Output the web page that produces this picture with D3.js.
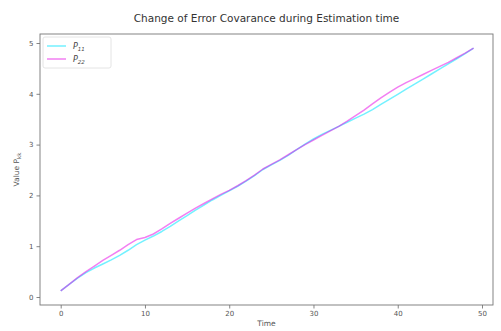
<!DOCTYPE html>
<html>
<head>
<meta charset="utf-8">
<script src="https://cdn.jsdelivr.net/npm/d3@7"></script>
<style>
  html, body { margin: 0; padding: 0; background: #fff; }
  svg { display: block; font-family: "DejaVu Sans", sans-serif; }
</style>
</head>
<body>
<svg id="chart" width="501" height="331"></svg>
<script>
// Time steps of the estimator
const timeSteps = d3.range(0, 50);

// Diagonal error-covariance entries over time
const p11 = [0.12, 0.25, 0.37, 0.48, 0.57, 0.65, 0.73, 0.82, 0.92, 1.03,
             1.12, 1.20, 1.29, 1.39, 1.50, 1.60, 1.71, 1.81, 1.91, 2.00,
             2.09, 2.18, 2.28, 2.39, 2.51, 2.60, 2.69, 2.79, 2.90, 3.01,
             3.11, 3.20, 3.28, 3.36, 3.44, 3.52, 3.60, 3.69, 3.79, 3.89,
             3.99, 4.09, 4.19, 4.29, 4.39, 4.49, 4.59, 4.69, 4.79, 4.90];
const p22 = [0.12, 0.25, 0.38, 0.50, 0.61, 0.72, 0.82, 0.92, 1.03, 1.13,
             1.17, 1.24, 1.34, 1.45, 1.55, 1.65, 1.75, 1.84, 1.93, 2.02,
             2.10, 2.19, 2.29, 2.40, 2.52, 2.61, 2.70, 2.80, 2.90, 3.00,
             3.09, 3.18, 3.27, 3.36, 3.46, 3.57, 3.68, 3.80, 3.92, 4.03,
             4.13, 4.22, 4.30, 4.38, 4.46, 4.54, 4.62, 4.71, 4.80, 4.90];

const xTicks = [0, 10, 20, 30, 40, 50];
const yTicks = [0, 1, 2, 3, 4, 5];

const series = [
  { sub: "11", values: p11, color: "rgba(0,230,255,0.55)" },
  { sub: "22", values: p22, color: "rgba(230,0,230,0.5)" }
];

const svg = d3.select("#chart");
const plot = { left: 40, right: 493, top: 34, bottom: 305 };

const x = d3.scaleLinear().domain([0, 50]).range([60.7, 482]);
const y = d3.scaleLinear().domain([0, 5]).range([297, 43]);

// Title
svg.append("text")
  .attr("x", (plot.left + plot.right) / 2)
  .attr("y", 22)
  .attr("text-anchor", "middle")
  .attr("font-size", 10.5)
  .attr("fill", "#333")
  .text("Change of Error Covarance during Estimation time");

// Axes
const xAxis = svg.append("g")
  .attr("transform", `translate(0,${plot.bottom})`)
  .call(d3.axisBottom(x).tickValues(xTicks).tickSize(3.5).tickPadding(3).tickFormat(d3.format("d")));
const yAxis = svg.append("g")
  .attr("transform", `translate(${plot.left},0)`)
  .call(d3.axisLeft(y).tickValues(yTicks).tickSize(3.5).tickPadding(3).tickFormat(d3.format("d")));

[xAxis, yAxis].forEach(g => {
  g.select(".domain").remove();
  g.selectAll(".tick line").attr("stroke", "#666").attr("stroke-width", 0.8);
  g.selectAll(".tick text").attr("fill", "#555").attr("font-size", 7)
    .attr("font-family", "DejaVu Sans, sans-serif");
});

// Series lines
const line = d3.line()
  .x((d, i) => x(timeSteps[i]))
  .y(d => y(d))
  .curve(d3.curveLinear);

series.forEach(s => {
  svg.append("path")
    .datum(s.values)
    .attr("fill", "none")
    .attr("stroke", s.color)
    .attr("stroke-width", 1.5)
    .attr("stroke-linejoin", "round")
    .attr("d", line);
});

// Frame
svg.append("rect")
  .attr("x", plot.left).attr("y", plot.top)
  .attr("width", plot.right - plot.left).attr("height", plot.bottom - plot.top)
  .attr("fill", "none").attr("stroke", "#777").attr("stroke-width", 0.9);

// Axis labels
svg.append("text")
  .attr("x", (plot.left + plot.right) / 2)
  .attr("y", 326)
  .attr("text-anchor", "middle")
  .attr("font-size", 7.5)
  .attr("fill", "#555")
  .text("Time");

const yl = svg.append("text")
  .attr("transform", `translate(19,${(plot.top + plot.bottom) / 2}) rotate(-90)`)
  .attr("text-anchor", "middle")
  .attr("font-size", 7.5)
  .attr("fill", "#555");
yl.append("tspan").text("Value P");
yl.append("tspan").attr("font-size", 5.5).attr("dy", 2).text("kk");

// Legend
const legend = svg.append("g");
legend.append("rect")
  .attr("x", 43).attr("y", 37).attr("width", 68).attr("height", 31)
  .attr("rx", 2).attr("fill", "#fff").attr("stroke", "#ddd").attr("stroke-width", 0.8);
series.forEach((s, i) => {
  const ly = 46 + i * 13;
  legend.append("line")
    .attr("x1", 47).attr("x2", 66).attr("y1", ly).attr("y2", ly)
    .attr("stroke", s.color).attr("stroke-width", 1.5);
  const t = legend.append("text")
    .attr("x", 73).attr("y", ly + 3)
    .attr("font-size", 8)
    .attr("fill", "#444")
    .attr("font-style", "italic");
  t.append("tspan").text("P");
  t.append("tspan").attr("font-size", 5.5).attr("dy", 2).attr("font-style", "italic").text(s.sub);
});
</script>
</body>
</html>
